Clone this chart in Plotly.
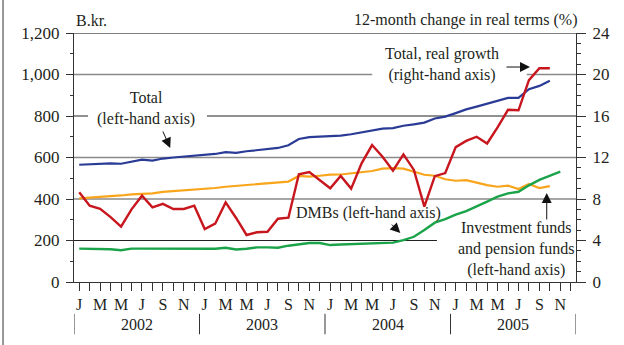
import plotly.graph_objects as go

# ---- data (Jan 2002 = index 0) ----
month_letters = ["J", "F", "M", "A", "M", "J", "J", "A", "S", "O", "N", "D"]
years = ["2002", "2003", "2004", "2005"]

total = [565, 568, 568, 572, 570, 580, 590, 585, 595, 600, 605, 608,
         612, 617, 626, 622, 630, 636, 641, 646, 659, 689, 698, 700,
         700, 705, 712, 720, 730, 739, 742, 753, 760, 768, 788, 797,
         814, 832, 845, 858, 874, 887, 887, 929, 945, 970]

real_growth = [8.65, 7.35, 7.05, 6.25, 5.33, 7.0, 8.32, 7.2, 7.53, 7.04, 7.04, 7.36,
               5.1, 5.62, 7.67, 6.17, 4.53, 4.79, 4.84, 6.1, 6.2, 10.38, 10.6, 9.83,
               9.03, 10.22, 9.0, 11.44, 13.2, 12.08, 10.73, 12.3, 10.8, 7.26, 10.2, 10.5,
               13.0, 13.6, 14.0, 13.35, 14.9, 16.6, 16.55, 19.45, 20.6, 20.6]

funds = [403, 406, 410, 413, 417, 422, 424, 427, 434, 438, 442, 443,
         448, 453, 459, 463, 466, 469, 474, 480, 484, 511, 508, 512,
         517, 518, 524, 530, 535, 546, 549, 546, 531, 517, 512, 495,
         488, 491, 479, 467, 459, 464, 448, 472, 453, 462]

dmbs = [161, 161, 158, 158, 153, 161, 161, 161, 161, 158, 158, 161,
        160, 160, 165, 157, 160, 167, 167, 165, 175, 183, 188, 188,
        178, 181, 183, 185, 185, 190, 190, 202, 218, 251, 286, 303,
        325, 342, 363, 387, 411, 427, 435, 466, 492, 512, 532]

n_months = 12 * len(years)
tickvals = list(range(n_months))
ticktext = [month_letters[i % 12] if i % 2 == 0 else "" for i in tickvals]

FONT = "Liberation Serif, Times New Roman, serif"
TXT = "#231f20"
AX = "#333333"

fig = go.Figure()
fig.add_trace(go.Scatter(x=list(range(len(total))), y=total, mode="lines",
                         line=dict(color="#2a3b96", width=2.2), yaxis="y"))
fig.add_trace(go.Scatter(x=list(range(len(funds))), y=funds, mode="lines",
                         line=dict(color="#f9a51b", width=2.2), yaxis="y"))
fig.add_trace(go.Scatter(x=list(range(len(dmbs))), y=dmbs, mode="lines",
                         line=dict(color="#1ba34a", width=2.4), yaxis="y"))
fig.add_trace(go.Scatter(x=list(range(len(real_growth))), y=real_growth, mode="lines",
                         line=dict(color="#c8161e", width=2.4), yaxis="y2"))

shapes = []
# horizontal reference lines (segments interrupted by labels)
grid = [
    (1200, [(0, 1)], "#555555", 1.3),
    (1000, [(0, 0.594), (0.902, 1)], "#8a8a8a", 1.4),
    (800, [(0, 0.028), (0.265, 1)], "#222222", 1.0),
    (600, [(0, 1)], "#8a8a8a", 1.4),
    (400, [(0, 1)], "#8a8a8a", 1.4),
    (200, [(0, 0.723)], "#222222", 1.0),
]
for yv, segs, col, w in grid:
    for x0, x1 in segs:
        shapes.append(dict(type="line", xref="paper", yref="y", x0=x0, x1=x1,
                           y0=yv, y1=yv, line=dict(color=col, width=w), layer="below"))
# year separators
for k in range(len(years) + 1):
    xs = k * 12 - 0.5
    shapes.append(dict(type="line", xref="x", yref="paper", x0=xs, x1=xs,
                       y0=-0.128, y1=-0.21, line=dict(color=AX, width=1)))
# outer left frame line
shapes.append(dict(type="line", xref="paper", yref="paper", x0=-0.1414, x1=-0.1414,
                   y0=-0.26, y1=1.14, line=dict(color=AX, width=1)))

annotations = []
for k, yr in enumerate(years):
    annotations.append(dict(x=k * 12 + 5.5, y=-0.169, xref="x", yref="paper", text=yr,
                            showarrow=False, yanchor="middle",
                            font=dict(family=FONT, size=16, color=TXT)))
annotations += [
    dict(x=0, y=1.052, xref="paper", yref="paper", text="B.kr.", showarrow=False,
         xanchor="left", yanchor="middle", font=dict(family=FONT, size=16, color=TXT)),
    dict(x=1.006, y=1.052, xref="paper", yref="paper", text="12-month change in real terms (%)",
         showarrow=False, xanchor="right", yanchor="middle",
         font=dict(family=FONT, size=16, color=TXT)),
    dict(x=6.4, y=838, xref="x", yref="y", text="Total<br>(left-hand axis)", showarrow=False,
         font=dict(family=FONT, size=16, color=TXT)),
    dict(x=34.7, y=1050, xref="x", yref="y", text="Total, real growth<br>(right-hand axis)",
         showarrow=False, font=dict(family=FONT, size=16, color=TXT)),
    dict(x=27.7, y=332, xref="x", yref="y", text="DMBs (left-hand axis)", showarrow=False,
         font=dict(family=FONT, size=16, color=TXT)),
    dict(x=41.8, y=159, xref="x", yref="y",
         text="Investment funds<br>and pension funds<br>(left-hand axis)", showarrow=False,
         font=dict(family=FONT, size=16, color=TXT)),
]
# arrows
for hx, hy, ax, ay in [(8.7, 646, -8, -18), (43.1, 1036, -25, 0),
                       (30.7, 236, -10, -10), (44.7, 429, 0, 28)]:
    annotations.append(dict(x=hx, y=hy, xref="x", yref="y", text="", showarrow=True,
                            ax=ax, ay=ay, arrowhead=2, arrowsize=2, arrowwidth=1,
                            arrowcolor="#111111"))

fig.update_layout(
    width=624, height=345,
    margin=dict(l=74, r=48, t=33, b=63),
    paper_bgcolor="white", plot_bgcolor="white",
    showlegend=False,
    font=dict(family=FONT, size=16, color=TXT),
    xaxis=dict(range=[-0.5, n_months - 0.5], tickvals=tickvals, ticktext=ticktext,
               ticks="outside", ticklen=8, tickcolor=AX, showgrid=False,
               showline=True, linecolor=AX, linewidth=1, zeroline=False,
               tickfont=dict(family=FONT, size=16, color=TXT), ticklabelstandoff=0),
    yaxis=dict(range=[0, 1200], dtick=200, tickformat=",", ticks="outside", ticklen=7,
               tickcolor=AX, showgrid=False, zeroline=False, showline=True,
               linecolor=AX, linewidth=1,
               minor=dict(dtick=100, ticks="outside", ticklen=3, tickcolor=AX,
                          showgrid=False),
               tickfont=dict(family=FONT, size=17, color=TXT), ticklabelstandoff=3),
    yaxis2=dict(range=[0, 24], dtick=4, overlaying="y", side="right", ticks="outside",
                ticklen=9, tickcolor=AX, showgrid=False, zeroline=False,
                showline=True, linecolor=AX, linewidth=1,
                minor=dict(dtick=1, ticks="outside", ticklen=4, tickcolor=AX,
                           showgrid=False),
                tickfont=dict(family=FONT, size=17, color=TXT), ticklabelstandoff=3),
    shapes=shapes,
    annotations=annotations,
)

fig.write_html("out.html", config={"displayModeBar": False},
               post_script="document.body.style.margin='0';")
